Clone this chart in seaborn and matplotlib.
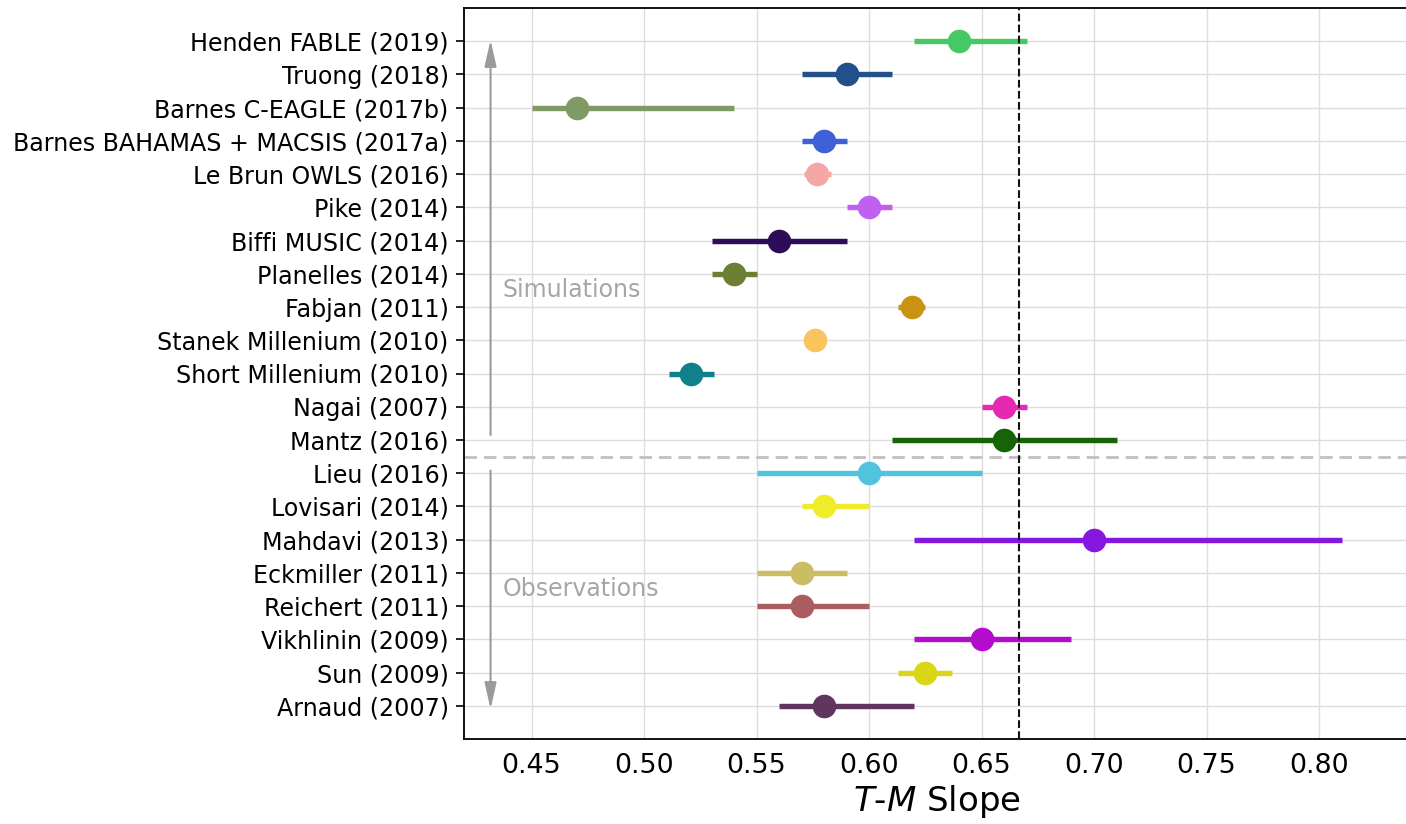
import numpy as np
import pandas as pd
import matplotlib
matplotlib.use("Agg")
import matplotlib.pyplot as plt
import seaborn as sns

# Published T-M slopes: central value and lower / upper bounds of each error bar
studies = [
    "Henden FABLE (2019)",
    "Truong (2018)",
    "Barnes C-EAGLE (2017b)",
    "Barnes BAHAMAS + MACSIS (2017a)",
    "Le Brun OWLS (2016)",
    "Pike (2014)",
    "Biffi MUSIC (2014)",
    "Planelles (2014)",
    "Fabjan (2011)",
    "Stanek Millenium (2010)",
    "Short Millenium (2010)",
    "Nagai (2007)",
    "Mantz (2016)",
    "Lieu (2016)",
    "Lovisari (2014)",
    "Mahdavi (2013)",
    "Eckmiller (2011)",
    "Reichert (2011)",
    "Vikhlinin (2009)",
    "Sun (2009)",
    "Arnaud (2007)",
]
slope = [0.64, 0.59, 0.47, 0.58, 0.577, 0.60, 0.56, 0.54, 0.619, 0.576, 0.521,
         0.66, 0.66, 0.60, 0.58, 0.70, 0.57, 0.57, 0.65, 0.625, 0.58]
lower = [0.62, 0.57, 0.45, 0.57, 0.571, 0.59, 0.53, 0.53, 0.613, 0.576, 0.511,
         0.65, 0.61, 0.55, 0.57, 0.62, 0.55, 0.55, 0.62, 0.613, 0.56]
upper = [0.67, 0.61, 0.54, 0.59, 0.583, 0.61, 0.59, 0.55, 0.625, 0.576, 0.531,
         0.67, 0.71, 0.65, 0.60, 0.81, 0.59, 0.60, 0.69, 0.637, 0.62]
colors = ["#46c864", "#22508a", "#7f9a65", "#4060d8", "#f7a6a6", "#c060ee",
          "#2e0d58", "#6b8035", "#c99411", "#f8c55c", "#10808c", "#e629b2",
          "#176307", "#50c4dc", "#f1ec2a", "#8617e0", "#cbbd63", "#ab5c5f",
          "#b30ccc", "#dad517", "#603560"]
self_similar = 2.0 / 3.0
xticks = [0.45, 0.50, 0.55, 0.60, 0.65, 0.70, 0.75, 0.80]

# Long-form table: three rows per study (lower, centre, upper); the median gives
# the point and the full percentile range gives the error bar.
df = pd.DataFrame({
    "study": np.repeat(studies, 3),
    "slope": np.ravel(np.column_stack([lower, slope, upper])),
})

sns.set_theme(style="ticks")
plt.rcParams["font.family"] = ["DejaVu Sans"]
plt.rcParams["text.color"] = "black"
plt.rcParams["axes.labelcolor"] = "black"

fig = plt.figure(figsize=(14.06, 8.24), dpi=100)
ax = fig.add_axes([464 / 1406, 85 / 824, 945 / 1406, 731 / 824])

sns.pointplot(
    data=df, x="slope", y="study", hue="study",
    order=studies, hue_order=studies, palette=colors,
    estimator="median", errorbar=("pi", 100),
    linestyle="none", markers="o", markersize=17, markeredgewidth=0,
    err_kws={"linewidth": 3.9, "solid_capstyle": "butt"},
    legend=False, ax=ax,
)

n = len(studies)
ax.set_xlim(0.42, 0.84)
ax.set_ylim(n, -1)
ax.set_xticks(xticks)
ax.set_xticklabels([f"{t:.2f}" for t in xticks])
ax.set_axisbelow(True)
ax.grid(True, color="#dddddd", linewidth=1.0)

ax.axvline(self_similar, color="#111111", linestyle="--", linewidth=1.5, zorder=5)
ax.axhline(12.5, color="#c0c0c0", linestyle=(0, (4.5, 2.5)), linewidth=2.0, zorder=1)

arrow_x = 0.4318
arrow_kw = dict(arrowstyle="-|>,head_length=1.6,head_width=0.36",
                color="#9a9a9a", lw=1.5, mutation_scale=10,
                shrinkA=0, shrinkB=0)
ax.annotate("", xy=(arrow_x, -0.04), xytext=(arrow_x, 11.85), arrowprops=arrow_kw)
ax.annotate("", xy=(arrow_x, 20.1), xytext=(arrow_x, 12.92), arrowprops=arrow_kw)
ax.text(0.4373, 7.49, "Simulations", color="#a6a6a6", fontsize=17,
        ha="left", va="center")
ax.text(0.4373, 16.48, "Observations", color="#a6a6a6", fontsize=17,
        ha="left", va="center")

ax.set_ylabel("")
ax.set_xlabel(r"$T$-$M$ Slope", fontsize=24.5, labelpad=3, color="black")
ax.tick_params(axis="y", labelsize=17.1, length=6, width=1.2, pad=5,
               colors="black")
ax.tick_params(axis="x", labelsize=19.4, length=0, pad=10, colors="black")
for side in ["left", "right", "top", "bottom"]:
    ax.spines[side].set_visible(True)
    ax.spines[side].set_color("black")
    ax.spines[side].set_linewidth(1.3)

fig.savefig("out.png", dpi=100)
